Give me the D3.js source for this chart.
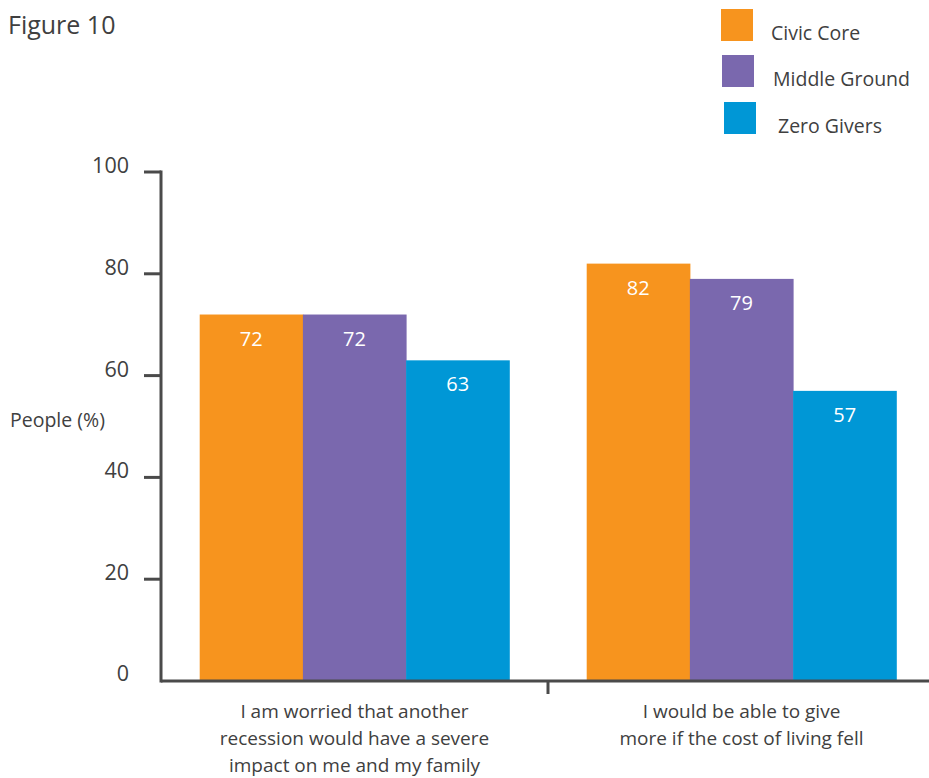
<!DOCTYPE html>
<html>
<head>
<meta charset="utf-8">
<script src="https://cdn.jsdelivr.net/npm/d3@7/dist/d3.min.js"></script>
<style>
  body { margin: 0; background: #fff; }
  svg text { font-family: "Open Sans", "Noto Sans", sans-serif; }
</style>
</head>
<body>
<svg id="chart" width="929" height="778"></svg>
<script>
// Survey statements (x categories), one line per array entry
const categories = [
  ["I am worried that another", "recession would have a severe", "impact on me and my family"],
  ["I would be able to give", "more if the cost of living fell"]
];
const seriesNames = ["Civic Core", "Middle Ground", "Zero Givers"];
const civicCore = [72, 82];
const middleGround = [72, 79];
const zeroGivers = [63, 57];
const yTicks = [0, 20, 40, 60, 80, 100];
const colors = ["#F7941E", "#7A68AE", "#0097D6"];

const series = [civicCore, middleGround, zeroGivers];
const svg = d3.select("#chart");
const axisColor = "#4a4a4a";
const textColor = "#404040";

const y = d3.scaleLinear().domain([0, 100]).range([681, 172]);
const x0 = d3.scaleBand().domain(d3.range(categories.length))
  .range([161, 935]).paddingInner(0.2).paddingOuter(0.1);
const x1 = d3.scaleBand().domain(d3.range(series.length))
  .range([0, x0.bandwidth()]);

// Title
svg.append("text").attr("x", 8).attr("y", 34)
  .attr("font-size", 25).attr("fill", textColor).text("Figure 10");

// Bars and value labels
categories.forEach((c, ci) => {
  const g = svg.append("g").attr("transform", `translate(${x0(ci)},0)`);
  series.forEach((s, si) => {
    g.append("rect")
      .attr("x", x1(si)).attr("y", y(s[ci]))
      .attr("width", x1.bandwidth() + 0.5).attr("height", y(0) - y(s[ci]))
      .attr("fill", colors[si]);
    g.append("text")
      .attr("x", x1(si) + x1.bandwidth() / 2).attr("y", y(s[ci]) + 31)
      .attr("text-anchor", "middle").attr("font-size", 20)
      .attr("fill", "#fff").text(s[ci]);
  });
});

// Y axis
const yAxis = svg.append("g");
yAxis.append("line").attr("x1", 161).attr("x2", 161)
  .attr("y1", y(100) - 1.5).attr("y2", y(0) + 1.5)
  .attr("stroke", axisColor).attr("stroke-width", 3);
yTicks.forEach(t => {
  if (t > 0) {
    yAxis.append("line").attr("x1", 144).attr("x2", 161)
      .attr("y1", y(t)).attr("y2", y(t))
      .attr("stroke", axisColor).attr("stroke-width", 3);
  }
  yAxis.append("text").attr("x", 129).attr("y", y(t) + (t === 0 ? 0 : 1))
    .attr("text-anchor", "end").attr("font-size", 21.5)
    .attr("fill", textColor).text(t);
});
svg.append("text").attr("x", 10).attr("y", 427)
  .attr("font-size", 19.5).attr("fill", textColor).text("People (%)");

// X axis
svg.append("line").attr("x1", 161).attr("x2", 929)
  .attr("y1", y(0)).attr("y2", y(0))
  .attr("stroke", axisColor).attr("stroke-width", 3);
const sep = x0(1) - x0.step() * x0.paddingInner() / 2;
svg.append("line").attr("x1", sep).attr("x2", sep)
  .attr("y1", y(0)).attr("y2", y(0) + 13)
  .attr("stroke", axisColor).attr("stroke-width", 3);

categories.forEach((lines, ci) => {
  const cx = x0(ci) + x0.bandwidth() / 2;
  lines.forEach((ln, li) => {
    svg.append("text").attr("x", cx).attr("y", 718 + li * 27)
      .attr("text-anchor", "middle").attr("font-size", 19)
      .attr("fill", textColor).text(ln);
  });
});

// Legend
const legendPos = [[721, 9, 771, 40], [722, 55, 773, 86], [724, 102, 778, 133]];
seriesNames.forEach((n, i) => {
  const [sx, sy, tx, ty] = legendPos[i];
  svg.append("rect").attr("x", sx).attr("y", sy).attr("width", 32).attr("height", 32)
    .attr("fill", colors[i]);
  svg.append("text").attr("x", tx).attr("y", ty)
    .attr("font-size", 19.5).attr("fill", textColor).text(n);
});
</script>
</body>
</html>
